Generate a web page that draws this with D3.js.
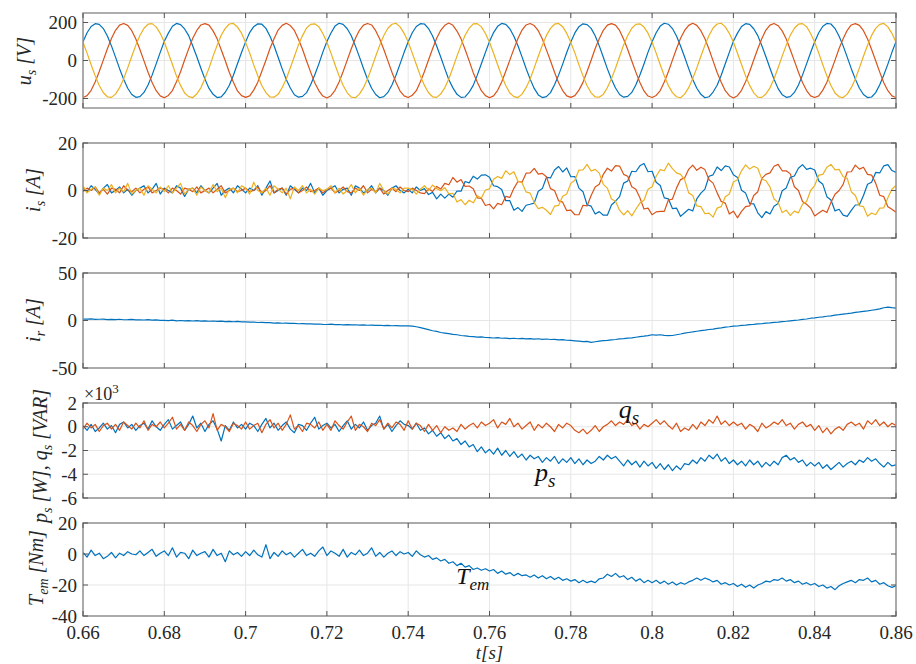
<!DOCTYPE html>
<html>
<head>
<meta charset="utf-8">
<script src="https://cdn.jsdelivr.net/npm/d3@7/dist/d3.min.js"></script>
<style>
  body { margin: 0; background: #fff; }
  svg text, svg tspan { font-family: "Liberation Serif" !important; }
</style>
</head>
<body>
<svg width="916" height="664" style="font-family: 'Liberation Serif'"></svg>
<script>
// sampling: 1 ms steps from 0.66 s to 0.86 s (201 samples per series)
const T_START = 0.66, T_STEP = 0.001;
const xTicks = [0.66, 0.68, 0.7, 0.72, 0.74, 0.76, 0.78, 0.8, 0.82, 0.84, 0.86];
const xTickLabels = ['0.66', '0.68', '0.7', '0.72', '0.74', '0.76', '0.78', '0.8', '0.82', '0.84', '0.86'];

// stator voltages u_s [V]
const uA = [
  99,146,179,194,190,168,129,77,18,-43,-99,-146,-179,-194,-190,-168,-129,-77,-18,43,
  101,144,180,195,189,166,131,76,20,-41,-98,-147,-178,-195,-191,-167,-130,-78,-17,42,
  98,147,178,193,191,169,128,78,17,-44,-100,-145,-180,-193,-189,-169,-128,-76,-19,44,
  100,145,181,196,190,167,130,77,19,-42,-99,-146,-179,-196,-190,-168,-129,-78,-18,43,
  99,146,179,194,192,168,129,76,18,-43,-101,-144,-178,-194,-192,-167,-131,-77,-17,43,
  100,147,180,195,190,167,128,78,19,-42,-98,-147,-181,-195,-190,-169,-128,-77,-19,42,
  98,145,178,193,189,169,130,77,17,-44,-99,-145,-179,-193,-189,-168,-129,-76,-18,44,
  99,146,181,196,191,168,129,76,18,-43,-100,-146,-178,-196,-191,-166,-130,-78,-17,43,
  101,144,179,194,190,167,131,78,20,-41,-99,-148,-180,-194,-190,-168,-129,-77,-18,42,
  99,146,180,195,192,168,128,77,18,-43,-98,-146,-179,-195,-192,-169,-128,-76,-19,43,
  99
];
const uB = [
  -195,-185,-157,-113,-58,2,62,116,159,186,195,185,157,113,58,-2,-62,-116,-159,-186,
  -196,-184,-158,-112,-59,3,61,117,158,187,194,186,156,114,57,-1,-63,-115,-160,-185,
  -194,-186,-156,-114,-57,1,63,115,160,185,196,184,158,112,59,-3,-61,-117,-158,-187,
  -197,-185,-157,-113,-58,2,62,116,159,186,195,187,157,113,58,-2,-62,-116,-161,-186,
  -195,-183,-159,-112,-58,3,62,117,159,185,197,185,155,114,58,-2,-64,-115,-159,-185,
  -196,-186,-157,-113,-57,2,61,116,160,187,195,184,157,113,56,-1,-62,-117,-158,-186,
  -194,-185,-156,-115,-58,1,63,115,159,186,194,186,158,112,58,-3,-61,-116,-160,-187,
  -195,-184,-158,-113,-59,2,62,117,158,185,196,185,157,114,59,-2,-63,-115,-159,-185,
  -197,-185,-157,-112,-58,3,62,116,160,186,195,183,156,113,57,-2,-62,-116,-158,-186,
  -195,-186,-156,-114,-57,2,63,115,159,187,194,185,157,113,58,-1,-61,-117,-159,-186,
  -195
];
const uC = [
  96,39,-22,-81,-132,-170,-191,-194,-177,-143,-96,-39,22,81,132,170,191,194,177,143,
  97,38,-21,-82,-131,-171,-190,-195,-176,-144,-95,-40,23,80,133,169,192,195,176,144,
  95,40,-23,-80,-133,-169,-192,-193,-178,-142,-97,-38,21,82,131,171,190,193,178,142,
  96,39,-22,-81,-132,-170,-193,-196,-177,-143,-96,-39,22,81,132,170,191,196,177,143,
  97,39,-21,-81,-131,-170,-191,-194,-176,-144,-96,-38,23,81,133,170,193,194,177,142,
  96,38,-22,-82,-132,-171,-190,-195,-177,-143,-97,-39,22,80,132,169,191,195,178,143,
  95,40,-23,-81,-133,-170,-192,-193,-178,-142,-96,-40,21,82,131,170,190,193,176,144,
  96,39,-22,-80,-132,-169,-191,-196,-177,-143,-95,-39,22,81,132,171,192,196,177,143,
  97,38,-21,-81,-131,-170,-193,-194,-176,-144,-96,-38,23,81,133,170,191,194,178,142,
  96,39,-22,-82,-132,-171,-191,-195,-177,-143,-97,-39,22,80,132,169,190,195,177,143,
  96
];

// stator currents i_s [A]
const iA = [
  1,-0.5,2,0.5,-1.5,1,2.5,-1,0,1.5,-1,0.5,-2,0,1,2,-1,0.5,3,-1.5,
  1,0,-1,2,1,-2.5,0.5,1,-1,2,0,-1,1,3,-2,0,1,-1,2,0.5,
  -1,1,0,2,-2,1,4,-1,0,1,-2,2,0.5,-1,1,0,3,-1,1,-2,
  0,1,2,-1,0.5,1,-2,2,1,-1,0,2,-1,1,0,-2,1,2,0,-1,
  0.5,-1,1.5,0,0.8,-1.7,-0.8,-3.5,-1.5,-3.2,-1.5,-2.8,-0.2,-0.3,3.8,3.2,6.0,4.8,6.5,6.6,
  5.6,2.0,1.6,0.4,-4.3,-4.3,-8.3,-7.2,-8.8,-6.2,-5.8,-5.3,-0.3,0.8,5.5,5.3,8.6,10.1,7.8,9.5,
  5.8,5.9,1.0,-0.5,-6.0,-6.6,-9.9,-8.9,-10.4,-10.4,-6.1,-4.5,-2.6,3.1,4.0,8.1,7.9,10.4,11.4,7.9,
  8.1,3.5,2.1,-3.1,-3.5,-7.6,-7.4,-10.9,-9.4,-7.9,-8.6,-3.5,-1.1,0.6,6.0,6.6,9.9,8.4,10.4,9.9,
  6.6,5.5,0.1,-1.1,-5.5,-5.6,-9.4,-11.4,-8.9,-9.9,-6.6,-5.5,-0.1,1.1,5.5,6.1,9.4,10.9,8.9,9.4,
  8.6,4.0,2.6,-2.6,-4.0,-8.6,-7.9,-10.4,-10.9,-8.4,-6.1,-6.0,-2.1,2.6,3.5,7.6,7.4,10.4,10.9,8.4,
  7.6
];
const iB = [
  -0.5,1,0,1.5,-1,0.5,-1.5,1,0.5,-1,2,0,-0.5,1,-1,0.5,1.5,-1,0,1,
  0.5,-1,1,0,-1.5,1,0.5,-0.5,1.5,-1,0,1,-1,0.5,2,-1,0,1,-0.5,0,
  1,-0.5,0,1.5,-1,0,2,-1,0.5,1,-1.5,0.5,1,-1,0,1.5,-0.5,0,1,-1,
  0.5,1,-1,0,1.5,-0.5,-1,1,0,2,-1,0.5,-0.5,1,-1.5,0,1,-0.5,1.5,0,
  -0.5,1,0,-1,-1.3,0.7,-0.4,1.7,0.6,3.0,2.4,5.5,3.5,4.6,1.7,1.9,0.7,-3.1,-3.3,-6.3,
  -5.8,-7.7,-5.4,-6.0,-2.5,-2.9,0.9,3.8,3.5,7.3,7.4,9.3,6.9,7.2,5.8,0.8,0,-4.3,-4.9,-8.5,
  -8.3,-10.2,-10.2,-6.2,-6.5,-2.1,1.5,2.6,6.8,9.4,8.2,10.5,10.3,6.8,6.0,1.6,0.5,-3.1,-7.8,-7.4,
  -10.2,-9.0,-8.8,-8.8,-4.0,-3.6,1.0,4.6,5.3,8.9,10.7,8.5,9.8,8.8,4.5,3.1,-1.0,-4.6,-5.3,-9.9,
  -8.7,-11.5,-8.8,-6.8,-6.5,-2.1,-0.5,5.1,6.8,7.4,10.2,11.0,8.3,8.3,7.0,1.6,0,-4.6,-5.8,-7.4,
  -10.7,-9.5,-8.3,-9.3,-5.0,-1.6,0,2.6,7.8,7.9,10.7,9.0,9.8,6.8,6.5,3.1,-2.0,-2.6,-6.8,-7.9,
  -9.2
];
const iC = [
  2,-1,0.5,1.5,-2,1,0,2.5,-1,1,-0.5,3,-1.5,0,1,-2,2,0.5,-1,1.5,
  -0.5,2,-1,1,3,-1.5,0.5,1,-2,1.5,0,-1,2.5,-0.5,1,-3,0.5,1,-1,2,
  1,-1.5,3.5,0,-1,1,-2,2,0.5,-1,1,-3.5,1.5,0,2,-1,0.5,-1.5,1,0,
  0.5,2,-1,1,-1.5,0,2.5,-1,1,-2,0.5,1,-1,3,0,-1.5,1,0.5,-1,1,
  1,0.5,-1.5,0.5,2.0,0,2.3,0.8,-0.1,1.2,-1.4,-1.2,-4.8,-3.8,-6.0,-4.1,-5.2,-2.2,-3.2,0.2,
  0.7,4.7,5.9,5.1,8.3,6.7,7.9,3.9,3.3,-0.6,-1.1,-5.1,-7.6,-7.1,-8.3,-10.1,-6.6,-6.3,-2.4,-1.5,
  3.0,4.3,8.6,8.7,11.0,8.2,8.9,7.3,2.6,1.0,-3.6,-4.5,-8.3,-10.3,-8.5,-10.7,-7.9,-5.3,-4.1,0.5,
  1.6,6.0,8.8,8.3,11.5,9.2,7.4,6.8,4.6,-1.0,-2.1,-6.5,-6.8,-9.8,-9.5,-11.2,-7.4,-6.8,-2.6,-1.5,
  3.6,4.5,8.3,10.8,9.0,10.2,9.4,4.8,4.1,1.5,-3.6,-5.0,-9.3,-8.3,-10.5,-8.7,-9.4,-5.8,-4.6,0,
  2.1,6.5,6.8,9.8,11.0,8.7,8.9,5.8,5.1,-0.5,-2.1,-6.5,-6.8,-10.8,-9.5,-10.2,-7.4,-7.3,-3.1,0.5,
  2.1
];

// rotor current i_r [A]
const iRotor = [
  1.5,1.4,1.7,1.2,1.3,1.5,0.9,1.2,1.0,1.3,0.8,0.9,1.1,0.6,0.8,0.5,0.9,0.3,0.6,0.2,
  0.1,-0.2,0.3,-0.3,0,-0.4,-0.1,-0.5,-0.2,-0.7,-0.4,-0.8,-0.5,-1.0,-0.7,-1.1,-0.9,-1.3,-1.0,-1.4,
  -1.4,-1.8,-1.6,-2.1,-1.9,-2.3,-2.2,-2.7,-2.4,-2.9,-2.7,-3.1,-3.0,-3.4,-3.2,-3.6,-3.5,-3.9,-3.7,-4.0,
  -4.2,-3.9,-4.4,-4.2,-4.6,-4.3,-4.7,-4.5,-4.9,-4.7,-5.0,-4.8,-5.2,-5.0,-5.3,-5.1,-5.5,-5.3,-5.7,-5.5,
  -5.6,-6.0,-6.6,-7.5,-8.6,-9.6,-10.8,-11.5,-12.6,-13.2,-13.9,-14.6,-15.0,-15.8,-16.1,-16.7,-16.9,-17.5,-17.3,-17.9,
  -18.0,-18.4,-18.1,-18.7,-18.5,-19.0,-18.7,-19.2,-18.9,-19.4,-19.1,-19.6,-19.2,-19.8,-19.5,-20.0,-19.8,-20.4,-20.2,-20.8,
  -21.0,-21.4,-21.8,-22.3,-22.0,-23.0,-22.4,-21.8,-21.2,-20.9,-20.3,-20.0,-19.4,-19.1,-18.5,-18.2,-17.6,-17.0,-16.5,-15.9,
  -15.0,-15.4,-15.0,-15.6,-16.0,-15.8,-15.0,-14.2,-13.3,-12.6,-12.0,-11.3,-10.6,-10.1,-9.5,-9.0,-8.3,-7.8,-7.0,-6.6,
  -6.0,-5.8,-5.2,-4.9,-4.3,-4.1,-3.6,-3.4,-2.8,-2.5,-2.0,-1.8,-1.2,-0.8,-0.3,0.2,0.5,1.2,1.6,2.4,
  2.8,3.4,3.9,4.5,4.9,5.6,6.1,6.7,7.2,7.8,8.5,9.0,9.6,10.1,10.8,11.4,12.2,13.4,14.1,13.5,
  13.0
];

// active / reactive power, x10^3 [W], [VAR]
const pStator = [
  0.1,-0.3,0.2,-0.4,-0.1,0.3,-0.2,0.1,-0.5,0.2,0.4,-0.1,0.2,-0.3,0.1,0.3,-0.2,0.5,0,-0.3,
  0.2,0.6,-0.2,0.1,0.4,-0.3,0.2,0.9,-0.1,0.3,-0.4,0.2,0.5,-0.2,-1.2,0.1,-0.3,0.4,-0.1,0.2,
  -0.2,0.3,0.1,-0.4,0.2,0.7,-0.1,0.3,-0.3,0.1,0.4,-0.2,-0.5,0.2,0.1,-0.3,0.3,0.8,-0.2,0.1,
  0.3,-0.1,0.2,-0.4,0.1,0.5,-0.2,0.2,-0.1,0.4,-0.3,0.1,0.3,0.9,-0.2,0.2,-0.4,0.1,0.5,0.2,
  0.1,-0.2,0.3,-0.3,-0.1,-0.6,-0.3,-0.8,-0.5,-1.0,-0.7,-1.2,-1.0,-1.5,-1.2,-1.7,-1.5,-2.1,-1.7,-2.2,
  -1.9,-2.3,-1.8,-2.4,-2.0,-2.5,-2.1,-2.6,-2.3,-2.8,-2.4,-2.7,-2.5,-3.0,-2.6,-2.9,-2.5,-3.1,-2.7,-3.0,
  -2.6,-3.1,-2.7,-3.2,-2.8,-3.1,-2.9,-2.5,-2.8,-2.4,-2.7,-2.5,-2.9,-3.3,-2.8,-3.2,-2.9,-3.4,-2.9,-3.3,
  -3.0,-3.5,-3.1,-3.6,-3.2,-3.7,-3.3,-3.6,-3.1,-3.2,-2.8,-3.1,-2.6,-2.9,-2.4,-2.7,-2.3,-2.9,-2.6,-3.1,
  -2.8,-3.2,-2.9,-3.3,-2.8,-3.2,-2.9,-3.4,-3.0,-3.3,-2.9,-3.2,-2.6,-2.4,-2.8,-2.6,-3.0,-2.8,-3.3,-3.0,
  -3.3,-3.0,-3.5,-3.2,-3.6,-3.3,-3.0,-3.4,-3.1,-2.9,-3.2,-2.8,-3.0,-2.6,-2.9,-2.7,-3.1,-3.4,-3.0,-3.3,
  -3.2
];
const qStator = [
  -0.2,0.3,-0.1,0.2,-0.4,0.1,0.3,-0.2,0.2,-0.3,0.4,0.1,-0.2,0.3,-0.1,0.5,-0.3,0.2,0,0.4,
  -0.1,0.3,0.8,-0.2,0.2,-0.3,0.4,0.1,-0.4,0.2,0.5,-0.1,1.1,-0.3,0.2,0,-0.4,0.3,0.1,-0.2,
  0.4,-0.2,0.1,0.3,-0.5,0.2,0.6,-0.1,0.3,-0.3,0.2,1.0,-0.2,0.1,-0.4,0.3,0.2,-0.1,0.4,-0.3,
  0.2,-0.3,0.5,0.1,-0.2,0.4,0.9,-0.3,0.2,0,-0.4,0.3,0.1,0.6,-0.2,0.3,-0.1,0.4,0.2,-0.3,
  0.5,-0.2,0.3,0.1,-0.4,0.2,-0.3,0.1,-0.5,0,-0.3,-0.1,-0.4,0.2,-0.2,0.1,0.3,-0.1,0.4,0.1,
  0.3,0.6,-0.1,0.4,0.2,0.7,0,0.3,-0.2,0.1,0.4,-0.3,0.2,-0.1,0.3,0,-0.4,0.2,-0.1,0.3,
  0.1,-0.3,-0.5,-0.2,-0.6,-0.3,0.1,-0.4,0,0.2,0.5,0.1,0.4,0.2,0.6,0.1,0.3,-0.2,0.2,0,
  0.3,0.6,0.2,0.5,0.1,-0.2,0.3,-0.4,-0.1,-0.3,0.2,-0.2,0.4,0.1,0.6,0.3,0.9,0.2,0.5,0.1,
  0.4,0.1,0.3,-0.2,0.2,0,-0.4,0.3,-0.1,0.1,0.4,0.2,0.6,0.1,0.3,-0.2,0.2,0.4,0,0.2,
  -0.3,0.1,-0.5,-0.1,-0.6,-0.2,0,-0.3,0.2,0.4,0.1,0.3,-0.2,0.5,0.2,0.6,0.1,0.4,0,0.3,
  0.1
];

// electromagnetic torque T_em [Nm]
const torque = [
  1,-2,2.5,-1,0.5,-3,-1.5,1,-2.5,0.5,-1,1.5,0,-0.5,2,-1,1,3,-1.5,0.5,
  2,-1,4,-2,1,0.5,-3,2.5,-1,0.5,1.5,-2,3,-1,0.5,-5,2,-0.5,1,-1.5,
  1.5,-1,2.5,-0.5,-2,6,-3,1,-1.5,2,-0.5,1,-2,0.5,3,-1,0.5,-1.5,2,4.5,
  -1,2,0.5,-1.5,3,-2,1,-0.5,2.5,-1,0.5,4,-1.5,1,-2,0.5,2,-1,1.5,0,
  1,-1.5,2,-0.5,-2,-1,-3.5,-2.5,-4.5,-3.5,-6,-5,-7.5,-6,-8.5,-7.5,-10,-9,-10.5,-9.5,
  -11,-10,-12.5,-11,-13,-12,-14,-12.5,-14,-13.5,-15,-13.5,-15.5,-14,-16,-14.5,-16.5,-15,-17,-16,
  -17.5,-16.5,-18.5,-17,-18.5,-17.5,-18.5,-16,-15.5,-13,-14.5,-12.5,-15,-14,-16.5,-15,-17.5,-16,-18.5,-17,
  -18.5,-17,-19,-17.5,-19.5,-18,-20,-18.5,-19.5,-18,-17,-15.5,-17,-15.5,-16.5,-18,-17,-19.5,-18.5,-20,
  -19,-21,-19.5,-21.5,-20,-22,-20,-19,-17.5,-18,-16.5,-17,-15.5,-17.5,-16.5,-18.5,-17.5,-19.5,-18.5,-20,
  -19,-21,-20,-22,-21,-23,-20.5,-19,-18,-17,-18.5,-16.5,-17,-15.5,-18,-17,-19.5,-18.5,-20.5,-21.5,
  -20.5
];

const BLUE = '#0072BD', RED = '#D95319', YELLOW = '#EDB120';
const SERIF = '"Liberation Serif"';

const svg = d3.select('svg');
const LEFT = 83, RIGHT = 896;

const x = d3.scaleLinear().domain([0.66, 0.86]).range([LEFT, RIGHT]);

const panels = [
  { top: 13, bottom: 108, domain: [-250, 250], ticks: [-200, 0, 200],
    series: [[uA, BLUE], [uB, RED], [uC, YELLOW]],
    label: [['u'], ['s', 1], [' [V]']], labelX: 31, labelY: 61 },
  { top: 143, bottom: 238, domain: [-20, 20], ticks: [-20, 0, 20],
    series: [[iA, BLUE], [iB, RED], [iC, YELLOW]],
    label: [['i'], ['s', 1], [' [A]']], labelX: 40, labelY: 190 },
  { top: 273, bottom: 368, domain: [-50, 50], ticks: [-50, 0, 50],
    series: [[iRotor, BLUE]],
    label: [['i'], ['r', 1], [' [A]']], labelX: 40, labelY: 320 },
  { top: 403, bottom: 498, domain: [-6, 2], ticks: [-6, -4, -2, 0, 2],
    series: [[pStator, BLUE], [qStator, RED]],
    label: [['p'], ['s', 1], [' [W], q'], ['s', 1], [' [VAR]']], labelX: 47, labelY: 456 },
  { top: 523, bottom: 616, domain: [-40, 20], ticks: [-40, -20, 0, 20],
    series: [[torque, BLUE]],
    label: [['T'], ['em', 1], [' [Nm]']], labelX: 43, labelY: 568 }
];

const defs = svg.append('defs');

panels.forEach((p, pi) => {
  const y = d3.scaleLinear().domain(p.domain).range([p.bottom, p.top]);
  p.y = y;
  const g = svg.append('g');

  // grid
  g.selectAll('.xg').data(xTicks).enter().append('line')
    .attr('x1', d => x(d)).attr('x2', d => x(d))
    .attr('y1', p.top).attr('y2', p.bottom)
    .attr('stroke', '#e6e6e6').attr('stroke-width', 1);
  g.selectAll('.yg').data(p.ticks).enter().append('line')
    .attr('x1', LEFT).attr('x2', RIGHT)
    .attr('y1', d => y(d)).attr('y2', d => y(d))
    .attr('stroke', '#e6e6e6').attr('stroke-width', 1);

  // traces
  defs.append('clipPath').attr('id', 'clip' + pi)
    .append('rect').attr('x', LEFT).attr('y', p.top)
    .attr('width', RIGHT - LEFT).attr('height', p.bottom - p.top);

  const line = d3.line()
    .x((d, i) => x(T_START + i * T_STEP))
    .y(d => y(d));

  p.series.forEach(([vals, col]) => {
    g.append('path')
      .datum(vals)
      .attr('d', line)
      .attr('fill', 'none')
      .attr('stroke', col)
      .attr('stroke-width', 1.2)
      .attr('stroke-linejoin', 'round')
      .attr('clip-path', 'url(#clip' + pi + ')');
  });

  // box
  g.append('rect')
    .attr('x', LEFT).attr('y', p.top)
    .attr('width', RIGHT - LEFT).attr('height', p.bottom - p.top)
    .attr('fill', 'none').attr('stroke', '#8c8c8c').attr('stroke-width', 1.4);

  // inward ticks on all four sides
  const tl = 5;
  xTicks.forEach(t => {
    g.append('line').attr('x1', x(t)).attr('x2', x(t))
      .attr('y1', p.bottom).attr('y2', p.bottom - tl)
      .attr('stroke', '#555').attr('stroke-width', 1);
    g.append('line').attr('x1', x(t)).attr('x2', x(t))
      .attr('y1', p.top).attr('y2', p.top + tl)
      .attr('stroke', '#555').attr('stroke-width', 1);
  });
  p.ticks.forEach(v => {
    g.append('line').attr('x1', LEFT).attr('x2', LEFT + tl)
      .attr('y1', y(v)).attr('y2', y(v))
      .attr('stroke', '#555').attr('stroke-width', 1);
    g.append('line').attr('x1', RIGHT).attr('x2', RIGHT - tl)
      .attr('y1', y(v)).attr('y2', y(v))
      .attr('stroke', '#555').attr('stroke-width', 1);
  });

  // y tick labels
  g.selectAll('.yl').data(p.ticks).enter().append('text')
    .attr('x', LEFT - 6).attr('y', d => y(d))
    .attr('dy', '0.35em')
    .attr('text-anchor', 'end')
    .style('font-family', SERIF)
    .style('font-size', '19px')
    .attr('fill', '#262626')
    .text(d => String(d));

  // y axis label (rotated, italic, with subscripts)
  const lab = svg.append('text')
    .attr('transform', `translate(${p.labelX},${p.labelY}) rotate(-90)`)
    .attr('text-anchor', 'middle')
    .style('font-family', SERIF)
    .style('font-size', '20px')
    .style('font-style', 'italic')
    .attr('fill', '#262626');
  let shifted = false;
  p.label.forEach(([txt, sub]) => {
    const ts = lab.append('tspan').text(txt);
    if (sub && !shifted) { ts.attr('dy', 5).style('font-size', '14px'); shifted = true; }
    else if (!sub && shifted) { ts.attr('dy', -5); shifted = false; }
  });
});

// x tick labels on bottom panel only
const last = panels[panels.length - 1];
svg.selectAll('.xl').data(xTicks).enter().append('text')
  .attr('x', d => x(d)).attr('y', last.bottom + 23)
  .attr('text-anchor', 'middle')
  .style('font-family', SERIF)
  .style('font-size', '19px')
  .attr('fill', '#262626')
  .text((d, i) => xTickLabels[i]);

svg.append('text')
  .attr('x', x(0.76)).attr('y', 659)
  .attr('text-anchor', 'middle')
  .style('font-family', SERIF)
  .style('font-size', '19px')
  .style('font-style', 'italic')
  .attr('fill', '#262626')
  .text('t[s]');

// exponent marker on power panel
const pw = panels[3];
const expo = svg.append('text')
  .attr('x', LEFT + 1).attr('y', pw.top - 3)
  .style('font-family', SERIF)
  .style('font-size', '18px')
  .attr('fill', '#262626');
expo.append('tspan').text('×10');
expo.append('tspan').attr('dy', -7).style('font-size', '13px').text('3');

// in-plot annotations
function annotate(t, v, panel, main, sub, size) {
  const tx = svg.append('text')
    .attr('x', x(t)).attr('y', panel.y(v))
    .style('font-family', SERIF)
    .style('font-size', size + 'px')
    .style('font-style', 'italic')
    .attr('fill', '#111');
  tx.append('tspan').text(main);
  tx.append('tspan').attr('dy', 6).style('font-size', Math.round(size * 0.72) + 'px').text(sub);
}
annotate(0.7712, -4.6, panels[3], 'p', 's', 26);
annotate(0.7918, 0.75, panels[3], 'q', 's', 26);
annotate(0.7518, -19.5, panels[4], 'T', 'em', 24);
</script>
</body>
</html>
